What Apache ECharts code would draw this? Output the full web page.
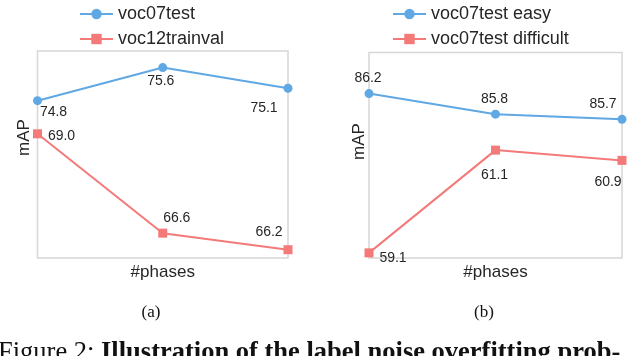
<!DOCTYPE html>
<html>
<head>
<meta charset="utf-8">
<script src="https://cdn.jsdelivr.net/npm/echarts@6/dist/echarts.min.js"></script>
<style>
  html, body { margin: 0; padding: 0; background: #fff; }
  #chart { width: 640px; height: 356px; }
</style>
</head>
<body>
<div id="chart"></div>
<script>
// values
const phases = ['1', '2', '3'];
const voc07test = [74.8, 75.6, 75.1];
const voc12trainval = [69.0, 66.6, 66.2];
const voc07easy = [86.2, 85.8, 85.7];
const voc07difficult = [59.1, 61.1, 60.9];

// label offsets (label centre relative to the point)
const offVoc07test = [[16, 11], [-2, 14], [-24, 20]];
const offVoc12 = [[24, 2], [14, -15], [-19, -18]];
const offEasy = [[-1, -15], [-1, -15], [-19, -15]];
const offDifficult = [[24, 5], [-1, 25], [-14, 22]];

const BLUE = '#5fa8e3';
const RED = '#f47a7a';
const FONT = 'Liberation Sans';

const chart = echarts.init(document.getElementById('chart'), null, { renderer: 'canvas' });

const makeSeries = (name, values, offsets, color, symbol, xIdx, yIdx) => ({
  name: name,
  type: 'line',
  xAxisIndex: xIdx,
  yAxisIndex: yIdx,
  data: values.map((v, i) => ({ value: v, label: { offset: offsets[i] } })),
  symbol: symbol,
  symbolSize: 9,
  lineStyle: { color: color, width: 2 },
  itemStyle: { color: color },
  label: {
    show: true,
    position: 'inside',
    color: '#262626',
    fontFamily: FONT,
    fontSize: 14,
    formatter: (p) => p.value.toFixed(1)
  },
  animation: false
});

const xAxisBase = (gridIndex) => ({
  type: 'category',
  gridIndex: gridIndex,
  data: phases,
  boundaryGap: false,
  axisLine: { show: false },
  axisTick: { show: false },
  axisLabel: { show: false },
  splitLine: { show: false },
  name: '#phases',
  nameLocation: 'middle',
  nameGap: 6,
  nameTextStyle: { color: '#262626', fontFamily: FONT, fontSize: 17 }
});

const yAxisBase = (gridIndex, min, max) => ({
  type: 'value',
  gridIndex: gridIndex,
  min: min,
  max: max,
  show: false
});

const legendBase = (left, names) => ({
  data: names,
  left: left,
  top: -1,
  orient: 'vertical',
  itemWidth: 33,
  itemHeight: 13,
  itemGap: 5,
  textStyle: { color: '#262626', fontFamily: FONT, fontSize: 18, lineHeight: 20 }
});

chart.setOption({
  backgroundColor: '#fff',
  grid: [
    { left: 37.5, top: 51, width: 250.5, height: 207, show: true, borderColor: '#d6d6d6', borderWidth: 1.5 },
    { left: 369, top: 52.5, width: 253, height: 205.5, show: true, borderColor: '#d6d6d6', borderWidth: 1.5 }
  ],
  legend: [
    legendBase(74, ['voc07test', 'voc12trainval']),
    legendBase(387, ['voc07test easy', 'voc07test difficult'])
  ],
  xAxis: [xAxisBase(0), xAxisBase(1)],
  yAxis: [
    yAxisBase(0, 71, 76),
    yAxisBase(0, 66, 71),
    yAxisBase(1, 83, 87),
    yAxisBase(1, 59, 63)
  ],
  series: [
    makeSeries('voc07test', voc07test, offVoc07test, BLUE, 'circle', 0, 0),
    makeSeries('voc12trainval', voc12trainval, offVoc12, RED, 'rect', 0, 1),
    makeSeries('voc07test easy', voc07easy, offEasy, BLUE, 'circle', 1, 2),
    makeSeries('voc07test difficult', voc07difficult, offDifficult, RED, 'rect', 1, 3)
  ],
  graphic: [
    {
      type: 'text', x: 24, y: 137.5, rotation: Math.PI / 2,
      style: { text: 'mAP', fill: '#262626', font: '17px "Liberation Sans"', align: 'center', verticalAlign: 'middle' }
    },
    {
      type: 'text', x: 359, y: 141.5, rotation: Math.PI / 2,
      style: { text: 'mAP', fill: '#262626', font: '17px "Liberation Sans"', align: 'center', verticalAlign: 'middle' }
    },
    {
      type: 'text', x: 151, y: 313,
      style: { text: '(a)', fill: '#111', font: '17px "Liberation Serif"', align: 'center', verticalAlign: 'middle' }
    },
    {
      type: 'text', x: 484, y: 313,
      style: { text: '(b)', fill: '#111', font: '17px "Liberation Serif"', align: 'center', verticalAlign: 'middle' }
    },
    {
      type: 'text', x: -2, y: 340,
      style: {
        text: '{n|Figure 2: }{b|Illustration of the label noise overfitting prob-}',
        verticalAlign: 'top',
        rich: {
          n: { fill: '#111', font: '26.5px "Liberation Serif"' },
          b: { fill: '#111', font: 'bold 26.5px "Liberation Serif"' }
        }
      }
    }
  ]
});

window.addEventListener('resize', () => chart.resize());
</script>
</body>
</html>
